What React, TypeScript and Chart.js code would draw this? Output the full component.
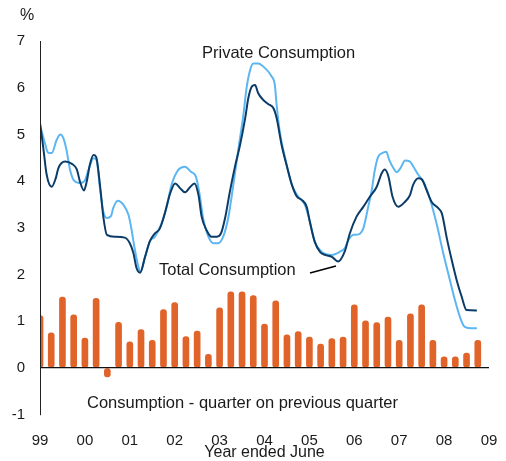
import React, { useEffect, useRef } from "react";
import { Chart, registerables } from "chart.js";

Chart.register(...registerables);

const yearLabels = ["99", "00", "01", "02", "03", "04", "05", "06", "07", "08", "09"];

const totalDates = [
  1999.0, 1999.07, 1999.15, 1999.26, 1999.35, 1999.41, 1999.56, 1999.71, 1999.82, 1999.89, 1999.98,
  2000.04, 2000.11, 2000.19, 2000.25, 2000.34, 2000.41, 2000.49, 2000.67, 2000.89, 2001.0, 2001.08,
  2001.15, 2001.23, 2001.34, 2001.45, 2001.56, 2001.67, 2001.78, 2001.9, 2002.01, 2002.12, 2002.23,
  2002.34, 2002.44, 2002.53, 2002.6, 2002.71, 2002.82, 2002.94, 2003.03, 2003.12, 2003.23, 2003.34,
  2003.45, 2003.57, 2003.64, 2003.72, 2003.79, 2003.86, 2003.97, 2004.08, 2004.2, 2004.27, 2004.38,
  2004.49, 2004.61, 2004.72, 2004.83, 2004.94, 2005.01, 2005.12, 2005.24, 2005.35, 2005.5, 2005.64,
  2005.79, 2005.9, 2006.05, 2006.2, 2006.35, 2006.5, 2006.61, 2006.68, 2006.76, 2006.85, 2006.98,
  2007.13, 2007.24, 2007.31, 2007.43, 2007.51, 2007.61, 2007.72, 2007.87, 2007.95, 2008.06, 2008.17,
  2008.28, 2008.39, 2008.5, 2008.73,
];
const totalValues = [
  5.24, 4.74, 4.13, 3.88, 4.06, 4.28, 4.42, 4.37, 4.25, 3.99, 3.8,
  3.99, 4.35, 4.56, 4.52, 3.88, 3.24, 2.85, 2.81, 2.79, 2.67, 2.46,
  2.14, 2.04, 2.38, 2.72, 2.88, 2.99, 3.31, 3.74, 3.95, 3.85, 3.76,
  3.87, 3.95, 3.7, 3.24, 2.95, 2.81, 2.81, 2.88, 3.2, 3.78, 4.3,
  4.75, 5.35, 5.78, 6.03, 6.06, 5.88, 5.74, 5.65, 5.56, 5.35, 4.78,
  4.35, 3.92, 3.67, 3.6, 3.45, 3.13, 2.7, 2.48, 2.42, 2.38, 2.28,
  2.5, 2.88, 3.24, 3.45, 3.67, 3.88, 4.17, 4.25, 4.1, 3.67, 3.45,
  3.56, 3.7, 3.92, 4.06, 4.03, 3.81, 3.56, 3.42, 3.31, 2.78, 2.31,
  1.88, 1.53, 1.24, 1.23,
];

const privateDates = [
  1999.0, 1999.11, 1999.18, 1999.26, 1999.37, 1999.45, 1999.52, 1999.59, 1999.67, 1999.76, 1999.89,
  1999.99, 2000.08, 2000.19, 2000.26, 2000.34, 2000.41, 2000.49, 2000.58, 2000.63, 2000.73, 2000.86,
  2000.97, 2001.04, 2001.1, 2001.19, 2001.24, 2001.34, 2001.45, 2001.56, 2001.71, 2001.82, 2001.93,
  2002.08, 2002.23, 2002.36, 2002.47, 2002.55, 2002.64, 2002.75, 2002.86, 2002.97, 2003.08, 2003.19,
  2003.31, 2003.42, 2003.53, 2003.6, 2003.68, 2003.75, 2003.86, 2004.01, 2004.16, 2004.23, 2004.27,
  2004.34, 2004.46, 2004.61, 2004.75, 2004.9, 2005.01, 2005.12, 2005.27, 2005.5, 2005.68, 2005.79,
  2005.87, 2005.98, 2006.09, 2006.2, 2006.31, 2006.39, 2006.45, 2006.53, 2006.62, 2006.71, 2006.78,
  2006.87, 2006.94, 2007.03, 2007.13, 2007.24, 2007.31, 2007.43, 2007.54, 2007.69, 2007.84, 2007.98,
  2008.13, 2008.24, 2008.35, 2008.46, 2008.62, 2008.73,
];
const privateValues = [
  5.2, 4.81, 4.61, 4.6, 4.88, 5.0, 4.92, 4.67, 4.24, 4.01, 3.96,
  4.0, 4.24, 4.49, 4.45, 3.81, 3.35, 3.21, 3.25, 3.42, 3.58, 3.49,
  3.28, 2.96, 2.6, 2.17, 2.06, 2.38, 2.72, 2.81, 3.1, 3.45, 3.92,
  4.24, 4.31, 4.2, 4.1, 3.74, 3.17, 2.81, 2.67, 2.67, 2.81, 3.2,
  3.95, 4.7, 5.42, 5.99, 6.38, 6.52, 6.52, 6.42, 6.24, 6.06, 5.63,
  5.06, 4.49, 3.92, 3.67, 3.49, 3.13, 2.7, 2.49, 2.42, 2.49, 2.57,
  2.74, 2.85, 2.86, 2.99, 3.45, 3.81, 4.2, 4.52, 4.6, 4.63, 4.45,
  4.28, 4.19, 4.28, 4.44, 4.42, 4.32, 4.13, 3.99, 3.6, 3.06, 2.46,
  1.88, 1.46, 1.1, 0.88, 0.85, 0.85,
];

// Quarterly growth, June quarter 1999 to March quarter 2009
const quarterStart = 1999.0;
const quarterValues = [
  1.12, 0.75, 1.52, 1.14, 0.64, 1.49, -0.19, 0.98, 0.56, 0.82,
  0.59, 1.25, 1.4, 0.67, 0.79, 0.29, 1.29, 1.63, 1.63, 1.55,
  0.94, 1.44, 0.71, 0.78, 0.66, 0.51, 0.63, 0.66, 1.35, 1.01,
  0.97, 1.09, 0.59, 1.16, 1.35, 0.59, 0.24, 0.24, 0.32, 0.59,
];

const FONT = "'Liberation Sans', Arial, Helvetica, sans-serif";
const TEXT = "#1a1a1a";

const annotationPlugin = {
  id: "annotations",
  afterDraw(chart: any) {
    const ctx = chart.ctx;
    ctx.save();
    ctx.fillStyle = TEXT;
    ctx.textBaseline = "middle";
    ctx.textAlign = "left";
    ctx.font = `16px ${FONT}`;
    ctx.fillText("%", 20, 16);
    ctx.font = `16.5px ${FONT}`;
    ctx.fillText("Private Consumption", 202, 53);
    ctx.fillText("Total Consumption", 159, 270);
    ctx.fillText("Consumption - quarter on previous quarter", 87, 403);
    ctx.strokeStyle = "#000";
    ctx.lineWidth = 1.5;
    ctx.beginPath();
    ctx.moveTo(310, 273);
    ctx.lineTo(336, 266);
    ctx.stroke();
    ctx.restore();
  },
};

export default function App() {
  const ref = useRef<HTMLCanvasElement | null>(null);

  useEffect(() => {
    if (!ref.current) return;
    const totalData = totalDates.map((x, i) => ({ x, y: totalValues[i] }));
    const privateData = privateDates.map((x, i) => ({ x, y: privateValues[i] }));
    const barData = quarterValues.map((y, i) => ({ x: quarterStart + i * 0.25, y }));

    const chart = new Chart(ref.current, {
      type: "bar",
      data: {
        datasets: [
          {
            type: "line",
            label: "Total Consumption",
            data: totalData,
            borderColor: "#0b3c68",
            borderWidth: 2,
            pointRadius: 0,
            cubicInterpolationMode: "monotone",
            order: 0,
          } as any,
          {
            type: "line",
            label: "Private Consumption",
            data: privateData,
            borderColor: "#5cb6f2",
            borderWidth: 2,
            pointRadius: 0,
            cubicInterpolationMode: "monotone",
            order: 1,
          } as any,
          {
            type: "bar",
            label: "Consumption - quarter on previous quarter",
            data: barData,
            backgroundColor: "#e0632a",
            barThickness: 6,
            borderRadius: 3,
            borderSkipped: false,
            order: 2,
          } as any,
        ],
      },
      options: {
        responsive: false,
        animation: false,
        devicePixelRatio: 1,
        layout: { padding: { left: 0, right: 17, top: 41, bottom: 0 } },
        plugins: { legend: { display: false }, tooltip: { enabled: false } },
        font: { family: FONT },
        scales: {
          x: {
            type: "linear",
            min: 1999,
            max: 2009,
            offset: false,
            afterFit: (s: any) => {
              s.height = 46.3;
              s.paddingLeft = 0;
              s.paddingRight = 0;
            },
            border: { display: false },
            grid: { display: false, drawTicks: false },
            ticks: {
              stepSize: 1,
              padding: 17,
              color: TEXT,
              font: { family: FONT, size: 15 },
              maxRotation: 0,
              autoSkip: false,
              callback: (_v: any, i: number) => yearLabels[i],
            },
            title: {
              display: true,
              text: "Year ended June",
              color: TEXT,
              font: { family: FONT, size: 16, lineHeight: 1 },
              padding: { top: 0, bottom: 0 },
            },
          },
          y: {
            type: "linear",
            min: -1,
            max: 7,
            afterFit: (s: any) => {
              s.width = 40;
            },
            border: { display: true, color: "#222", width: 1, z: 1 },
            grid: {
              drawTicks: false,
              z: 1,
              color: (c: any) => (c.tick && c.tick.value === 0 ? "#111" : "rgba(0,0,0,0)"),
              lineWidth: 1.2,
            },
            ticks: {
              stepSize: 1,
              padding: 15,
              color: TEXT,
              font: { family: FONT, size: 15 },
            },
          },
        },
      } as any,
      plugins: [annotationPlugin],
    });
    return () => chart.destroy();
  }, []);

  return (
    <div style={{ position: "fixed", left: 0, top: 0, width: 506, height: 461, background: "#fff" }}>
      <canvas ref={ref} width={506} height={461} style={{ width: 506, height: 461 }} />
    </div>
  );
}
